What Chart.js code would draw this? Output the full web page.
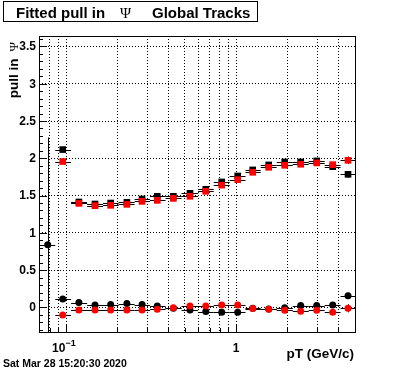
<!DOCTYPE html>
<html>
<head>
<meta charset="utf-8">
<script src="https://cdn.jsdelivr.net/npm/chart.js@4.4.1/dist/chart.umd.min.js"></script>
<style>
  html, body { margin: 0; padding: 0; background: #fff; }
  #wrap { width: 396px; height: 372px; }
</style>
</head>
<body>
<div id="wrap"><canvas id="pullChart" width="396" height="372"></canvas></div>
<script>
// --- Data ---
const ptBinEdges = [0.0701, 0.0864, 0.107, 0.133, 0.165, 0.204, 0.253, 0.312, 0.385, 0.478, 0.598,
                    0.739, 0.918, 1.137, 1.397, 1.735, 2.156, 2.677, 3.325, 4.12, 5.08];
const ptCenters = [0.078, 0.0956, 0.119, 0.148, 0.183, 0.228, 0.280, 0.344, 0.428, 0.536,
                   0.664, 0.824, 1.023, 1.254, 1.557, 1.934, 2.402, 2.984, 3.706, 4.56];

// widths of the pull (squares)
const sigmaBlack = [null, 2.117, 1.414, 1.387, 1.40, 1.409, 1.454, 1.49, 1.49, 1.53,
                    1.584, 1.683, 1.763, 1.844, 1.911, 1.951, 1.951, 1.965, 1.888, 1.785];
const sigmaBlackErr = [null, 0.02, 0.012, 0.012, 0.012, 0.012, 0.012, 0.012, 0.012, 0.012,
                       0.012, 0.012, 0.012, 0.012, 0.015, 0.015, 0.015, 0.02, 0.025, 0.045];
const sigmaRed = [null, 1.956, 1.395, 1.364, 1.369, 1.382, 1.422, 1.436, 1.462, 1.49,
                  1.557, 1.64, 1.714, 1.812, 1.879, 1.906, 1.92, 1.938, 1.915, 1.973];
const sigmaRedErr = [null, 0.02, 0.012, 0.012, 0.012, 0.012, 0.012, 0.012, 0.012, 0.012,
                     0.012, 0.012, 0.012, 0.012, 0.015, 0.015, 0.015, 0.02, 0.025, 0.05];

// means of the pull (circles)
const meanBlack = [0.84, 0.114, 0.065, 0.034, 0.038, 0.051, 0.038, 0.02, -0.012, -0.034,
                   -0.056, -0.065, -0.065, -0.01, -0.02, -0.003, 0.025, 0.025, 0.034, 0.155];
const meanBlackErr = [1.44, 0.02, 0.012, 0.012, 0.012, 0.012, 0.012, 0.012, 0.012, 0.012,
                      0.012, 0.012, 0.012, 0.012, 0.015, 0.015, 0.015, 0.02, 0.025, 0.045];
const meanRed = [null, -0.10, -0.034, -0.034, -0.034, -0.034, -0.034, -0.025, -0.003, 0.02,
                 0.02, 0.034, 0.034, -0.016, -0.025, -0.038, -0.051, -0.038, -0.065, -0.011];
const meanRedErr = [null, 0.02, 0.012, 0.012, 0.012, 0.012, 0.012, 0.012, 0.012, 0.012,
                    0.012, 0.012, 0.012, 0.012, 0.015, 0.015, 0.015, 0.02, 0.025, 0.054];

// axis ticks
const xTickValues = [0.08, 0.09, 0.1, 0.2, 0.3, 0.4, 0.5, 0.6, 0.7, 0.8, 0.9, 1, 2, 3, 4];
const xMajorTicks = [0.1, 1];
const yTickValues = [0, 0.5, 1, 1.5, 2, 2.5, 3, 3.5];
const yTickLabels = ['0', '0.5', '1', '1.5', '2', '2.5', '3', '3.5'];

const X_MIN = 0.0693, X_MAX = 5.08;
const Y_MIN = -0.343, Y_MAX = 3.64;
const FONT = '"Liberation Sans", Arial, Helvetica, sans-serif';

function toPoints(values, errors) {
    const pts = [];
    values.forEach((v, i) => {
        if (v === null) return;
        pts.push({ x: ptCenters[i], y: v, i: i, err: errors[i] });
    });
    return pts;
}

// --- Error bars, drawn just before each dataset's markers ---
const errorBarPlugin = {
    id: 'errorBars',
    beforeDatasetDraw(chart, args) {
        const { ctx, chartArea, scales } = chart;
        const ds = chart.data.datasets[args.index];
        ctx.save();
        ctx.beginPath();
        ctx.rect(chartArea.left, chartArea.top, chartArea.right - chartArea.left, chartArea.bottom - chartArea.top);
        ctx.clip();
        ctx.strokeStyle = '#000';
        ctx.lineWidth = 1;
        ds.data.forEach(p => {
            const x0 = scales.x.getPixelForValue(ptBinEdges[p.i]);
            const x1 = scales.x.getPixelForValue(ptBinEdges[p.i + 1]);
            const xc = Math.round(scales.x.getPixelForValue(p.x)) + 0.5;
            const yc = Math.round(scales.y.getPixelForValue(p.y)) + 0.5;
            const yLo = scales.y.getPixelForValue(p.y - p.err);
            const yHi = scales.y.getPixelForValue(p.y + p.err);
            ctx.beginPath();
            ctx.moveTo(x0, yc);
            ctx.lineTo(x1, yc);
            ctx.moveTo(xc, yLo);
            ctx.lineTo(xc, yHi);
            ctx.stroke();
        });
        ctx.restore();
    }
};

// --- Frame, tick marks, labels and titles (ROOT style) ---
const decorPlugin = {
    id: 'decor',
    beforeDraw(chart) {
        const { ctx } = chart;
        ctx.save();
        ctx.fillStyle = '#fff';
        ctx.fillRect(0, 0, chart.width, chart.height);
        ctx.restore();
    },
    afterDraw(chart) {
        const { ctx, chartArea: a, scales } = chart;
        ctx.save();
        ctx.strokeStyle = '#000';
        ctx.fillStyle = '#000';
        ctx.lineWidth = 1;

        // frame
        ctx.strokeRect(Math.round(a.left) + 0.5, Math.round(a.top) + 0.5,
                       Math.round(a.right - a.left) - 1, Math.round(a.bottom - a.top) - 1);

        // y ticks (major every 0.5, minor every 0.1)
        ctx.beginPath();
        for (let k = -3; k <= 36; k++) {
            const v = k / 10;
            const y = Math.round(scales.y.getPixelForValue(v)) + 0.5;
            const len = (k % 5 === 0) ? 8 : 4;
            ctx.moveTo(a.left, y);
            ctx.lineTo(a.left + len, y);
        }
        // x ticks
        xTickValues.forEach(v => {
            const x = Math.round(scales.x.getPixelForValue(v)) + 0.5;
            const len = xMajorTicks.includes(v) ? 9 : 5;
            ctx.moveTo(x, a.bottom);
            ctx.lineTo(x, a.bottom - len);
        });
        ctx.stroke();

        // y tick labels
        ctx.font = 'bold 12px ' + FONT;
        ctx.textAlign = 'right';
        ctx.textBaseline = 'middle';
        yTickValues.forEach((v, i) => {
            ctx.fillText(yTickLabels[i], a.left - 3, scales.y.getPixelForValue(v) + 0.5);
        });

        // x tick labels: 10^-1 and 1
        ctx.textBaseline = 'alphabetic';
        ctx.textAlign = 'left';
        const x01 = scales.x.getPixelForValue(0.1);
        ctx.font = 'bold 12px ' + FONT;
        ctx.fillText('10', x01 - 14, 352);
        ctx.font = 'bold 9px ' + FONT;
        ctx.fillText('\u22121', x01 - 0.5, 345.5);
        ctx.font = 'bold 12px ' + FONT;
        ctx.textAlign = 'center';
        ctx.fillText('1', scales.x.getPixelForValue(1), 352);

        // x axis title
        ctx.font = 'bold 13.5px ' + FONT;
        ctx.textAlign = 'right';
        ctx.fillText('pT (GeV/c)', a.right - 2, 358);

        // y axis title (rotated, aligned to top)
        ctx.save();
        ctx.translate(18, 42);
        ctx.rotate(-Math.PI / 2);
        ctx.textAlign = 'right';
        ctx.font = '13px "Liberation Serif", "DejaVu Serif", serif';
        ctx.fillText('\u03A8', 0, 0);
        const psiW = ctx.measureText('\u03A8').width;
        ctx.font = 'bold 13.5px ' + FONT;
        ctx.fillText('pull in', -psiW - 7, 0);
        ctx.restore();

        // title box
        ctx.strokeRect(3.5, 1.5, 254, 20);
        ctx.textAlign = 'left';
        ctx.font = 'bold 15px ' + FONT;
        ctx.fillText('Fitted pull in', 16, 17.5);
        ctx.font = '15px "Liberation Serif", "DejaVu Serif", serif';
        ctx.fillText('\u03A8', 120, 17.5);
        ctx.font = 'bold 15px ' + FONT;
        ctx.fillText('Global Tracks', 152, 17.5);

        // date stamp
        ctx.font = 'bold 10.5px ' + FONT;
        ctx.fillText('Sat Mar 28 15:20:30 2020', 3, 367);

        ctx.restore();
    }
};

const ctx = document.getElementById('pullChart');
new Chart(ctx, {
    type: 'scatter',
    data: {
        datasets: [
            { label: 'sigma black', data: toPoints(sigmaBlack, sigmaBlackErr), order: 4,
              pointStyle: 'rect', pointRadius: 4.7, pointBackgroundColor: '#000', pointBorderWidth: 0 },
            { label: 'sigma red', data: toPoints(sigmaRed, sigmaRedErr), order: 3,
              pointStyle: 'rect', pointRadius: 4.7, pointBackgroundColor: '#ff0000', pointBorderWidth: 0 },
            { label: 'mean black', data: toPoints(meanBlack, meanBlackErr), order: 2,
              pointStyle: 'circle', pointRadius: 3.5, pointBackgroundColor: '#000', pointBorderWidth: 0 },
            { label: 'mean red', data: toPoints(meanRed, meanRedErr), order: 1,
              pointStyle: 'circle', pointRadius: 3.5, pointBackgroundColor: '#ff0000', pointBorderWidth: 0 }
        ]
    },
    options: {
        responsive: false,
        animation: false,
        events: [],
        layout: { padding: { left: 0, right: 40, top: 36, bottom: 0 } },
        plugins: {
            legend: { display: false },
            tooltip: { enabled: false },
            title: { display: false }
        },
        scales: {
            x: {
                type: 'logarithmic', min: X_MIN, max: X_MAX,
                afterBuildTicks: s => { s.ticks = xTickValues.map(v => ({ value: v })); },
                afterFit: s => { s.height = 39; },
                ticks: { display: false },
                grid: { color: '#000', lineWidth: 1, drawTicks: false },
                border: { display: false, dash: [1, 2] }
            },
            y: {
                type: 'linear', min: Y_MIN, max: Y_MAX,
                afterBuildTicks: s => { s.ticks = yTickValues.map(v => ({ value: v })); },
                afterFit: s => { s.width = 39; },
                ticks: { display: false },
                grid: { color: '#000', lineWidth: 1, drawTicks: false },
                border: { display: false, dash: [1, 2] }
            }
        }
    },
    plugins: [errorBarPlugin, decorPlugin]
});
</script>
</body>
</html>
